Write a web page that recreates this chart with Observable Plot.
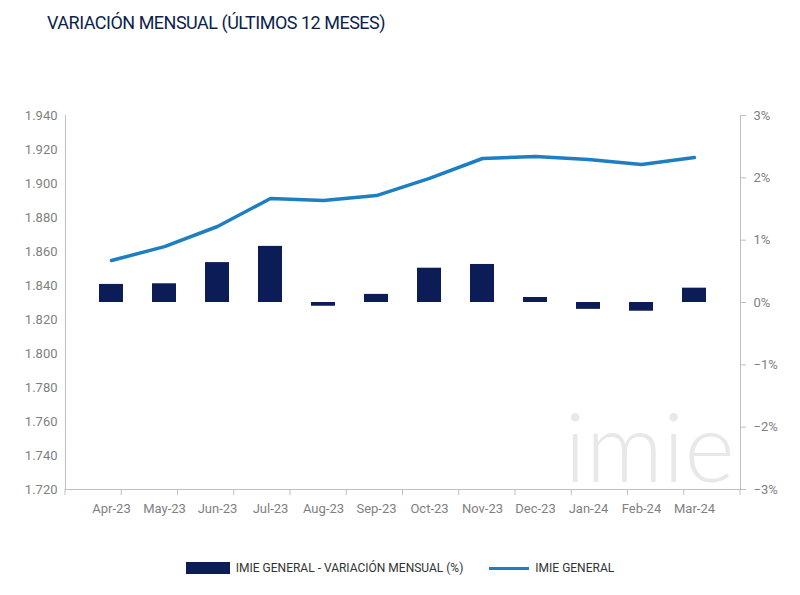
<!DOCTYPE html>
<html><head><meta charset="utf-8">
<script src="https://cdn.jsdelivr.net/npm/d3@7"></script>
<script src="https://cdn.jsdelivr.net/npm/@observablehq/plot@0.6"></script>
<style>
body{margin:0;background:#fff;font-family:"Roboto",sans-serif;}
#t{height:45px;padding-left:47px;font-size:18px;line-height:45px;color:#0d1f4c;letter-spacing:-0.5px}
#lg{display:flex;justify-content:center;gap:26px;font-size:12px;color:#333;margin-top:16px;}
#lg span{display:inline-flex;align-items:center;gap:6px}
</style></head><body>
<div id="t">VARIACIÓN MENSUAL (ÚLTIMOS 12 MESES)</div>
<div id="c"></div>
<div id="lg"><span><i style="display:inline-block;width:44px;height:12px;background:#0c1c56"></i>IMIE GENERAL - VARIACIÓN MENSUAL (%)</span><span><i style="display:inline-block;width:40px;height:3px;background:#1d7fc1"></i>IMIE GENERAL</span></div>
<script>
const months=["Apr-23","May-23","Jun-23","Jul-23","Aug-23","Sep-23","Oct-23","Nov-23","Dec-23","Jan-24","Feb-24","Mar-24"];
const index=[1.8547,1.8629,1.8747,1.8912,1.8900,1.8929,1.9030,1.9147,1.9159,1.9141,1.9112,1.9153];
const pct=[0.29,0.30,0.64,0.90,-0.06,0.13,0.55,0.61,0.08,-0.11,-0.14,0.23];
const leftTicks=[1.72,1.74,1.76,1.78,1.80,1.82,1.84,1.86,1.88,1.90,1.92,1.94];
const rightTicks=[-3,-2,-1,0,1,2,3];
const toL=p=>1.830+p*0.11/3;
const rows=months.map((m,i)=>({m,idx:index[i],p:pct[i]}));
const chart=Plot.plot({
  width:800,height:500,marginLeft:65,marginRight:60,marginTop:70,marginBottom:56,
  style:{fontFamily:"Roboto,sans-serif",fontSize:"13px",color:"#7f7f7f"},
  x:{domain:months,padding:0.55,label:null},
  y:{domain:[1.72,1.94],label:null},
  marks:[
    Plot.ruleY([1.72],{stroke:"#bfbfbf"}),
    Plot.axisY({ticks:leftTicks,tickFormat:d=>d3.format(".3f")(d),tickSize:0,tickPadding:8,label:null}),
    Plot.axisY({anchor:"right",ticks:rightTicks.map(toL),tickFormat:(d,i)=>{const v=rightTicks[i];return (v<0?"−":"")+Math.abs(v)+"%";},tickSize:5,stroke:"#bfbfbf",tickPadding:8,label:null}),
    Plot.axisX({tickSize:0,tickPadding:14,label:null}),
    Plot.frame({anchor:"left",stroke:"#bfbfbf"}),
    Plot.frame({anchor:"right",stroke:"#bfbfbf"}),
    Plot.text(["imie"],{frameAnchor:"bottom-right",dx:-6,dy:-8,text:d=>d,fontSize:96,fill:"#e8e8e8",fontFamily:"Lato, sans-serif",fontWeight:300}),
    Plot.barY(rows,{x:"m",y1:()=>toL(0),y2:d=>toL(d.p),fill:"#0c1c56"}),
    Plot.line(rows,{x:"m",y:"idx",stroke:"#1d7fc1",strokeWidth:3.5,curve:"linear"})
  ]
});
document.getElementById("c").append(chart);
const svg=d3.select(chart);
const xs=d3.scaleLinear().domain([0,12]).range([65,740]);
for(let i=0;i<=12;i++)svg.append("line").attr("x1",xs(i)).attr("x2",xs(i)).attr("y1",444).attr("y2",450).attr("stroke","#bfbfbf");
</script></body></html>
